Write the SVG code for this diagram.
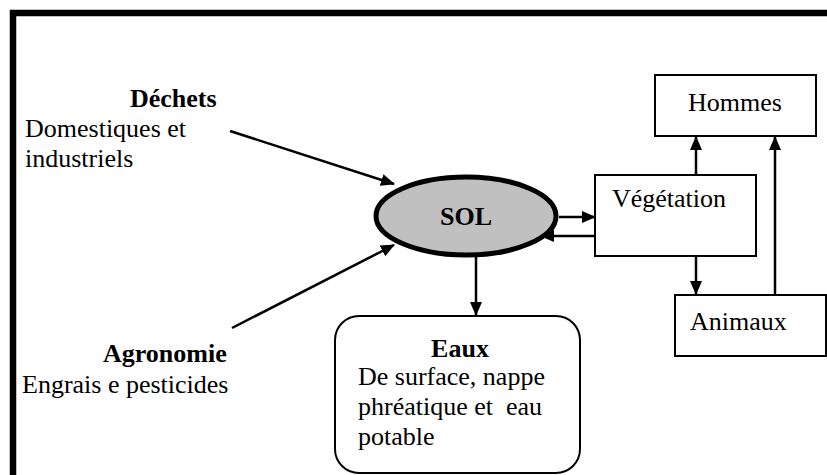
<svg xmlns="http://www.w3.org/2000/svg" width="827" height="475" viewBox="0 0 827 475">
<style>
.t{font-family:'Liberation Serif','Times New Roman',Times,'DejaVu Serif',serif;font-size:26px;fill:#000}
.b{font-weight:bold}
.box{fill:#fff;stroke:#000;stroke-width:2}
.c{fill:none;stroke:#000;stroke-width:2.5}
</style>
<defs>
<marker id="ah" markerUnits="userSpaceOnUse" markerWidth="14" markerHeight="12" refX="13" refY="6" orient="auto">
<path d="M0,0 L14,6 L0,12 z" fill="#000"/>
</marker>
</defs>
<rect width="827" height="475" fill="#fff"/>
<path d="M13,475 V13 H827" fill="none" stroke="#000" stroke-width="6.5"/>
<g id="dechets" class="t" font-family="Liberation Serif, serif">
<text class="b" x="130" y="107">Déchets</text>
<text x="25" y="137">Domestiques et</text>
<text x="25" y="167">industriels</text>
</g>
<g id="agronomie" class="t" font-family="Liberation Serif, serif">
<text class="b" x="103" y="362">Agronomie</text>
<text x="22" y="393">Engrais e pesticides</text>
</g>
<g id="sol" class="t" font-family="Liberation Serif, serif">
<ellipse cx="466" cy="216" rx="90" ry="39" fill="#c0c0c0" stroke="#000" stroke-width="5"/>
<text class="b" x="466" y="225" text-anchor="middle">SOL</text>
</g>
<g id="eaux" class="t" font-family="Liberation Serif, serif">
<rect class="box" x="335" y="316" width="245" height="157" rx="24"/>
<text class="b" x="460" y="357" text-anchor="middle">Eaux</text>
<text x="358" y="385">De surface, nappe</text>
<text x="358" y="415" xml:space="preserve">phréatique et  eau</text>
<text x="358" y="445">potable</text>
</g>
<g id="vegetation" class="t" font-family="Liberation Serif, serif">
<rect class="box" x="595" y="175" width="161" height="81"/>
<text x="612" y="207">Végétation</text>
</g>
<g id="hommes" class="t" font-family="Liberation Serif, serif">
<rect class="box" x="655" y="75" width="161" height="61"/>
<text x="688" y="111">Hommes</text>
</g>
<g id="animaux" class="t" font-family="Liberation Serif, serif">
<rect class="box" x="675" y="295" width="151" height="61"/>
<text x="690" y="330">Animaux</text>
</g>
<g id="connectors">
<line class="c" x1="230" y1="131" x2="394" y2="184" marker-end="url(#ah)"/>
<line class="c" x1="232" y1="328" x2="394" y2="245" marker-end="url(#ah)"/>
<line class="c" x1="559" y1="217" x2="595" y2="217" marker-end="url(#ah)"/>
<line class="c" x1="595" y1="236" x2="541" y2="236" marker-end="url(#ah)"/>
<line class="c" x1="476" y1="257" x2="476" y2="315" marker-end="url(#ah)"/>
<line class="c" x1="696" y1="175" x2="696" y2="137" marker-end="url(#ah)"/>
<line class="c" x1="696" y1="256" x2="696" y2="294" marker-end="url(#ah)"/>
<line class="c" x1="775" y1="295" x2="775" y2="137" marker-end="url(#ah)"/>
</g>
</svg>
